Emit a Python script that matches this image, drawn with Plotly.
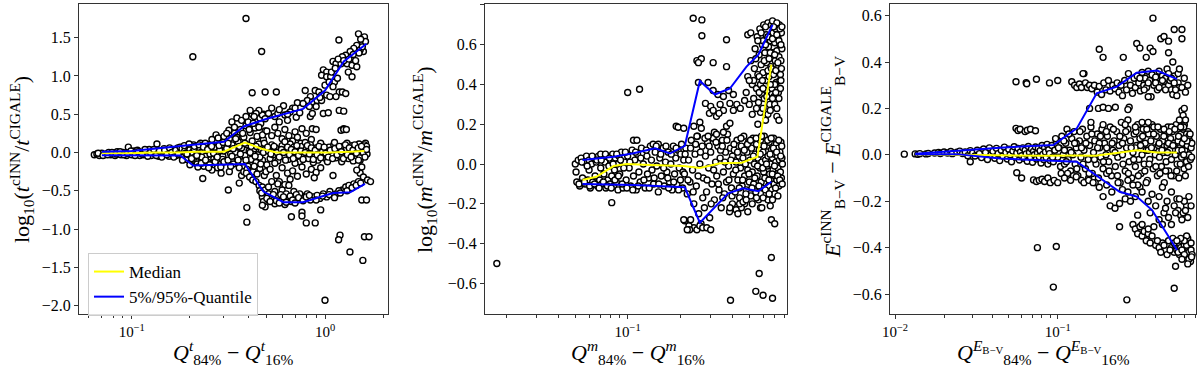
import plotly.graph_objects as go

FONT = "Liberation Serif, Times New Roman, serif"

# ---------------- Panel 1: age t ----------------
t_points = [
    # narrow band at small Q
    (0.064,-0.03),(0.066,-0.02),(0.068,-0.04),(0.070,-0.01),(0.072,-0.03),(0.074,-0.02),(0.076,0.00),(0.078,-0.03),
    (0.080,-0.01),(0.082,-0.04),(0.084,0.01),(0.086,-0.02),(0.088,-0.03),(0.090,0.00),(0.092,-0.02),(0.094,-0.04),
    (0.096,0.01),(0.098,-0.01),(0.100,-0.03),(0.103,0.02),(0.105,-0.02),(0.107,0.03),(0.110,-0.04),(0.112,0.00),
    (0.115,-0.03),(0.118,0.02),(0.120,-0.01),(0.123,0.04),(0.126,-0.04),(0.129,0.01),(0.132,-0.02),(0.135,0.03),
    (0.138,-0.05),(0.141,0.00),(0.144,-0.03),(0.147,0.05),(0.150,-0.01),(0.153,0.02),(0.156,-0.05),(0.160,0.04),
    (0.163,-0.02),(0.166,0.01),(0.170,-0.04),(0.173,0.06),(0.176,0.00),(0.180,-0.03),(0.135,0.11),(0.096,0.07),
    (0.067,-0.01),(0.071,-0.04),(0.075,-0.03),(0.079,0.00),(0.083,-0.02),(0.087,0.01),(0.091,-0.03),(0.095,-0.01),
    (0.099,0.02),(0.104,-0.04),(0.108,0.01),(0.113,-0.02),(0.117,0.04),(0.121,-0.05),(0.125,0.00),(0.130,0.04),
    (0.134,-0.04),(0.139,0.02),(0.143,-0.06),(0.148,0.03),(0.152,-0.03),(0.157,0.06),(0.161,0.00),(0.165,-0.06),
    (0.169,0.03),(0.174,-0.02),(0.178,0.07),
    # widening band
    (0.182,0.05),(0.185,-0.06),(0.188,0.02),(0.191,-0.09),(0.194,0.08),(0.197,-0.03),(0.200,0.04),(0.203,-0.12),
    (0.206,0.00),(0.209,0.10),(0.212,-0.06),(0.215,0.03),(0.218,-0.15),(0.221,0.07),(0.224,-0.02),(0.227,0.12),
    (0.230,-0.09),(0.233,0.01),(0.236,-0.18),(0.239,0.05),(0.242,-0.05),(0.245,0.09),(0.248,-0.13),(0.251,0.02),
    (0.254,-0.02),(0.257,0.11),(0.260,-0.17),(0.263,0.04),(0.266,-0.08),(0.269,0.07),(0.272,-0.03),(0.275,0.13),
    (0.278,-0.20),(0.281,0.00),(0.284,-0.11),(0.287,0.06),(0.290,-0.15),(0.293,0.10),(0.296,-0.05),(0.299,0.02),
    (0.273,0.23),(0.318,0.29),(0.290,-0.27),(0.260,-0.23),(0.190,-0.01),(0.210,0.05),(0.230,-0.06),(0.250,0.06),
    (0.270,-0.12),(0.285,0.03),(0.295,-0.09),(0.200,-0.16),(0.220,-0.19),(0.240,0.12),
    (0.183,-0.10),(0.187,0.09),(0.193,-0.02),(0.198,0.11),(0.204,-0.08),(0.211,0.08),(0.217,-0.04),(0.223,0.10),
    (0.229,-0.14),(0.235,0.07),(0.241,-0.10),(0.247,0.04),(0.253,-0.16),(0.259,0.08),(0.265,-0.01),(0.271,0.15),
    (0.277,-0.06),(0.283,0.09),(0.289,-0.19),(0.297,0.13),(0.300,-0.12),(0.260,0.17),(0.280,0.19),(0.300,0.21),
    (0.250,-0.20),
    # central cloud
    (0.310,0.05),(0.315,-0.10),(0.320,0.18),(0.325,-0.02),(0.330,0.10),(0.335,-0.15),(0.340,0.25),(0.345,0.00),
    (0.350,-0.07),(0.355,0.14),(0.360,-0.20),(0.365,0.30),(0.370,0.06),(0.375,-0.12),(0.380,0.20),(0.385,-0.04),
    (0.390,0.35),(0.395,0.10),(0.400,-0.18),(0.405,0.02),(0.410,0.26),(0.415,-0.09),(0.420,0.15),(0.425,-0.25),
    (0.430,0.05),(0.435,0.32),(0.440,-0.13),(0.445,0.21),(0.450,-0.03),(0.455,0.11),(0.460,-0.21),(0.465,0.38),
    (0.470,0.03),(0.475,-0.10),(0.480,0.17),(0.485,-0.30),(0.490,0.28),(0.495,0.07),(0.500,-0.16),
    (0.330,0.40),(0.350,0.45),(0.370,-0.30),(0.380,-0.25),(0.400,0.40),(0.420,-0.35),(0.440,0.43),(0.360,-0.40),
    (0.340,0.33),(0.320,-0.25),(0.310,0.25),(0.330,-0.05),(0.360,0.08),(0.390,-0.10),(0.410,0.00),(0.440,0.08),
    (0.460,-0.06),(0.480,0.00),(0.350,0.20),(0.430,-0.18),
    (0.315,0.12),(0.325,-0.18),(0.335,0.05),(0.345,0.18),(0.355,-0.10),(0.365,-0.02),(0.375,0.25),(0.385,0.12),
    (0.395,-0.22),(0.405,0.30),(0.415,0.08),(0.425,0.38),(0.435,-0.05),(0.445,-0.28),(0.455,0.33),(0.465,-0.15),
    (0.475,0.23),(0.485,0.12),(0.495,-0.25),(0.370,0.42),(0.390,0.47),(0.420,0.50),(0.460,0.45),(0.480,0.50),
    # upper branch
    (1.49,1.55),(1.60,1.51),(1.55,1.45),(1.46,1.40),(1.41,1.36),(1.35,1.32),(1.58,1.32),(1.52,1.34),
    (1.28,1.27),(1.23,1.25),(1.18,1.47),(1.10,1.19),(1.14,1.16),(1.21,1.16),(1.30,1.16),(1.38,1.14),
    (1.46,1.12),(0.98,1.08),(1.02,1.05),(0.96,1.01),(1.02,0.99),(1.07,0.99),(1.32,1.05),(1.38,0.99),
    (1.12,0.92),(1.16,0.97),(1.10,0.86),(1.185,0.79),(1.23,0.79),(1.28,0.77),(0.89,0.81),(0.93,0.79),
    (0.96,0.75),(1.02,0.75),(1.06,0.73),(1.14,0.73),(0.79,0.81),(0.84,0.73),(0.81,0.68),(0.86,0.66),
    (0.91,0.68),(0.96,0.68),(0.72,0.65),(0.77,0.64),(1.185,0.55),(0.98,0.51),(0.83,0.60),(0.84,0.47),
    (0.86,0.51),(0.68,0.58),(0.66,0.53),(0.61,0.61),(0.62,0.49),(0.71,0.46),(0.53,0.58),(0.51,0.51),
    (0.474,0.49),(0.455,0.55),(0.44,0.51),(0.41,0.55),(0.43,0.47),(0.49,0.44),(0.55,0.47),(0.57,0.51),
    (0.76,0.31),(0.86,0.31),(1.21,0.29),(1.25,0.31),(0.42,0.78),(0.49,0.79),(0.56,0.79),(0.39,1.75),
    (0.47,1.32),(0.207,1.25),(1.25,0.30),(1.29,0.30),(1.25,0.54),(1.04,0.52),(0.64,0.42),(0.58,0.40),
    (1.00,0.88),(1.05,0.92),(1.08,1.05),(1.13,1.10),(1.17,1.22),(1.25,1.20),(1.33,1.22),(1.40,1.28),
    (1.44,1.20),(1.50,1.30),(1.56,1.38),(1.62,1.45),(1.53,1.48),(0.70,0.58),(0.74,0.52),(0.90,0.60),
    (0.94,0.72),(0.58,0.56),(0.64,0.50),
    # sub band
    (0.50,0.28),(0.53,0.22),(0.55,0.33),(0.57,0.25),(0.60,0.18),(0.62,0.30),(0.65,0.22),(0.68,0.15),
    (0.70,0.27),(0.72,0.20),(0.75,0.12),(0.80,0.25),(0.85,0.17),(0.90,0.30),
    # middle band
    (0.51,0.02),(0.52,-0.08),(0.53,0.10),(0.54,-0.03),(0.555,0.06),(0.57,-0.11),(0.585,0.01),(0.60,0.09),
    (0.615,-0.05),(0.63,0.04),(0.645,-0.09),(0.66,0.11),(0.675,-0.01),(0.69,0.07),(0.705,-0.07),(0.72,0.03),
    (0.74,-0.12),(0.76,0.08),(0.78,-0.03),(0.80,0.05),(0.82,-0.08),(0.84,0.10),(0.86,0.00),(0.88,-0.06),
    (0.90,0.06),(0.92,-0.10),(0.94,0.02),(0.96,0.09),(0.98,-0.04),(1.00,0.04),(1.02,-0.09),(1.05,0.07),
    (1.08,-0.02),(1.11,0.10),(1.14,-0.07),(1.17,0.03),(1.20,-0.05),(1.23,0.08),(1.26,-0.01),(1.29,0.05),
    (1.32,-0.08),(1.35,0.02),(1.38,0.09),(1.41,-0.04),(1.44,0.05),(1.47,-0.06),(1.50,0.11),(1.53,0.01),
    (1.56,-0.03),(1.59,0.07),(1.62,0.12),(1.65,-0.02),(0.55,-0.14),(0.62,0.14),(0.70,-0.14),(0.79,0.13),
    (0.87,-0.13),(0.95,0.12),(1.03,-0.12),(1.12,0.13),(1.22,-0.12),(1.30,0.12),(1.40,-0.11),(1.52,-0.10),
    (1.60,0.10),(1.64,0.08),
    (0.505,0.07),(0.525,-0.02),(0.545,0.08),(0.565,0.00),(0.58,-0.06),(0.595,0.04),(0.61,0.00),(0.625,-0.10),
    (0.64,0.07),(0.655,-0.03),(0.67,0.04),(0.685,-0.08),(0.70,0.01),(0.715,0.09),(0.73,-0.04),(0.75,0.02),
    (0.77,-0.09),(0.79,0.00),(0.81,0.09),(0.83,-0.02),(0.85,0.06),(0.87,-0.09),(0.89,0.03),(0.91,-0.03),
    (0.93,0.08),(0.95,-0.07),(0.97,0.01),(0.99,0.07),(1.01,-0.01),(1.04,-0.06),(1.065,0.03),(1.095,-0.08),
    (1.125,0.05),(1.155,-0.03),(1.185,0.08),(1.215,0.01),(1.245,-0.08),(1.275,0.10),(1.305,-0.03),(1.335,0.06),
    (1.365,-0.06),(1.395,0.03),(1.425,0.10),(1.455,-0.01),(1.485,0.06),(1.515,-0.07),(1.545,0.08),(1.575,0.00),
    (1.61,-0.06),(1.64,0.04),
    # lower-middle scatter
    (0.52,-0.22),(0.56,-0.30),(0.60,-0.20),(0.64,-0.27),(0.68,-0.24),(0.72,-0.31),(0.76,-0.19),(0.80,-0.28),
    (0.85,-0.22),(0.90,-0.26),(0.95,-0.20),(1.10,-0.30),(0.88,-0.33),(0.66,-0.35),(0.58,-0.38),(0.62,-0.42),
    # lower branch
    (0.392,-0.27),(0.407,-0.32),(0.423,-0.36),(0.439,-0.38),(0.456,-0.43),(0.474,-0.45),(0.49,-0.49),(0.474,-0.58),
    (0.48,-0.64),(0.49,-0.71),(0.474,-0.69),(0.51,-0.54),(0.53,-0.58),(0.55,-0.51),(0.57,-0.58),(0.55,-0.67),
    (0.60,-0.62),(0.62,-0.68),(0.64,-0.60),(0.67,-0.64),(0.69,-0.58),(0.72,-0.62),(0.75,-0.56),(0.78,-0.60),
    (0.81,-0.54),(0.87,-0.58),(0.94,-0.60),(0.98,-0.54),(1.02,-0.58),(1.06,-0.51),(1.14,-0.54),(1.23,-0.49),
    (1.28,-0.45),(1.33,-0.43),(1.41,-0.41),(1.49,-0.38),(0.51,-0.45),(0.53,-0.38),(0.60,-0.49),(0.63,-0.54),
    (0.69,-0.51),(0.74,-0.54),(0.65,-0.43),(0.57,-0.41),(0.84,-0.62),(0.91,-0.56),(1.10,-0.56),(1.18,-0.50),
    (0.46,-0.50),(0.47,-0.53),(0.50,-0.60),(0.52,-0.64),(0.54,-0.55),(0.56,-0.63),(0.58,-0.66),(0.59,-0.55),
    (0.61,-0.58),(0.63,-0.65),(0.66,-0.57),(0.68,-0.62),(0.70,-0.66),(0.71,-0.55),(0.73,-0.59),(0.77,-0.63),
    (0.80,-0.58),(0.83,-0.56),(0.90,-0.62),(0.97,-0.57),(1.05,-0.55),(1.12,-0.59),(1.20,-0.53),(1.30,-0.50),
    (1.38,-0.46),(1.45,-0.43),(1.53,-0.40),
    # right edge
    (1.49,-0.10),(1.55,-0.19),(1.52,-0.27),(1.58,-0.32),(1.66,-0.36),(1.72,-0.38),(1.46,-0.23),(1.55,-0.62),
    # outliers
    (1.60,-1.10),(1.57,-1.41),(1.346,-1.30),(1.196,-1.08),(1.176,-1.14),(1.69,-1.10),(1.64,-0.62),(1.00,-1.93),
    (0.80,-0.92),(0.89,-0.92),(0.67,-0.84),(0.76,-0.78),(0.76,-0.83),(0.95,-0.75),(0.394,-0.72),(0.394,-0.91),
    (0.316,-0.49),(0.233,-0.34),
]
t_med_x = [0.070, 0.085, 0.10, 0.13, 0.17, 0.22, 0.30, 0.385, 0.47, 0.56, 0.80, 1.05, 1.35, 1.60]
t_med_y = [-0.01, -0.01, -0.01, 0.00, 0.00, 0.01, 0.01, 0.13, 0.05, 0.00, 0.00, 0.00, 0.01, 0.02]
t_hi_x = [0.070, 0.10, 0.19, 0.30, 0.38, 0.50, 0.77, 1.00, 1.25, 1.64]
t_hi_y = [0.01, 0.02, 0.09, 0.14, 0.34, 0.44, 0.57, 0.81, 1.19, 1.42]
t_lo_x = [0.070, 0.178, 0.208, 0.293, 0.385, 0.48, 0.61, 0.77, 0.94, 1.10, 1.35, 1.61]
t_lo_y = [-0.035, -0.04, -0.17, -0.16, -0.15, -0.51, -0.65, -0.65, -0.58, -0.53, -0.52, -0.41]

# ---------------- Panel 2: mass m ----------------
m_points = [
    (0.0177,-0.50),
    (0.050,0.00),(0.051,-0.09),(0.052,0.02),(0.053,-0.11),(0.054,0.03),(0.055,-0.07),(0.056,0.01),(0.057,-0.10),
    (0.058,0.04),(0.059,-0.08),(0.060,0.02),(0.061,-0.12),(0.062,0.00),(0.063,-0.09),(0.064,0.03),(0.065,-0.06),
    (0.066,0.01),(0.067,-0.11),(0.068,0.04),(0.069,-0.08),(0.070,-0.02),(0.071,-0.10),(0.072,0.03),(0.073,-0.05),
    (0.074,0.01),(0.075,-0.12),(0.076,0.04),(0.077,-0.08),(0.078,-0.01),(0.079,-0.10),(0.080,0.02),(0.081,-0.06),
    (0.082,0.05),(0.083,-0.11),(0.084,-0.03),(0.085,0.03),(0.086,-0.09),(0.087,0.00),(0.088,-0.13),(0.089,0.04),
    (0.090,-0.05),(0.092,0.06),(0.094,-0.12),(0.096,0.01),(0.098,-0.08),(0.100,0.04),(0.102,-0.02),(0.104,-0.11),
    (0.106,0.07),(0.108,-0.06),(0.110,0.02),(0.112,-0.13),(0.114,0.05),(0.116,-0.04),(0.118,-0.09),(0.120,0.08),
    (0.123,0.00),(0.126,-0.12),(0.129,0.04),(0.132,-0.07),(0.135,0.09),(0.138,-0.03),(0.141,-0.10),(0.144,0.06),
    (0.147,-0.01),(0.150,-0.14),(0.153,0.03),(0.156,-0.06),(0.159,0.08),(0.162,-0.11),(0.165,0.01),(0.168,-0.04),
    (0.171,0.06),(0.174,-0.09),(0.177,0.00),(0.180,-0.13),(0.183,0.09),(0.186,-0.05),(0.189,0.03),(0.192,-0.10),
    (0.195,0.07),(0.198,-0.02),(0.201,-0.08),(0.204,0.10),(0.207,-0.12),(0.210,0.02),
    (0.108,0.12),(0.113,0.12),(0.140,0.10),(0.150,0.10),(0.160,0.08),(0.19,0.19),(0.195,0.185),(0.21,0.18),
    (0.081,-0.194),(0.100,0.36),(0.117,0.376),(0.060,-0.03),(0.070,0.05),(0.095,-0.02),(0.130,-0.05),(0.170,-0.07),
    (0.0505,-0.04),(0.0525,-0.10),(0.0545,0.01),(0.0565,-0.09),(0.0585,-0.01),(0.0605,-0.11),(0.0625,0.04),(0.0645,-0.10),
    (0.0665,0.02),(0.0685,-0.12),(0.0705,0.02),(0.0725,-0.09),(0.0745,0.05),(0.0765,-0.11),(0.0785,0.03),(0.0805,-0.12),
    (0.0825,0.00),(0.0845,-0.08),(0.0865,0.05),(0.0885,-0.06),(0.091,0.02),(0.093,-0.10),(0.097,0.06),(0.099,-0.12),
    (0.103,0.01),(0.107,-0.13),(0.111,0.06),(0.115,-0.11),(0.119,0.03),(0.124,-0.08),(0.128,0.07),(0.133,-0.12),
    (0.137,0.02),(0.142,-0.07),(0.146,0.09),(0.151,-0.10),(0.155,0.05),(0.161,-0.02),(0.166,0.09),(0.172,-0.12),
    (0.178,0.05),(0.184,-0.09),(0.190,0.08),(0.196,-0.13),(0.202,0.05),(0.208,-0.04),
    # 0.21 - 0.40
    (0.212,-0.05),(0.216,0.08),(0.220,-0.15),(0.224,0.02),(0.228,-0.09),(0.232,0.12),(0.236,-0.03),(0.240,-0.20),
    (0.244,0.05),(0.248,-0.11),(0.252,0.14),(0.256,-0.25),(0.260,0.00),(0.264,-0.30),(0.268,0.09),(0.272,-0.07),
    (0.276,-0.22),(0.280,0.04),(0.284,-0.14),(0.288,0.11),(0.292,-0.02),(0.296,-0.27),(0.300,0.06),(0.305,-0.10),
    (0.310,0.13),(0.315,-0.18),(0.320,0.01),(0.325,-0.06),(0.330,0.09),(0.335,-0.13),(0.340,0.03),(0.345,-0.22),
    (0.350,0.12),(0.355,-0.04),(0.360,-0.15),(0.365,0.06),(0.370,-0.09),(0.375,0.15),(0.380,-0.01),(0.385,-0.24),
    (0.390,0.08),(0.395,-0.12),(0.400,0.04),
    (0.214,0.05),(0.222,-0.08),(0.230,0.08),(0.238,-0.14),(0.246,0.10),(0.254,-0.06),(0.262,0.06),(0.270,-0.17),
    (0.278,0.13),(0.286,-0.08),(0.294,0.09),(0.302,-0.20),(0.312,-0.03),(0.322,0.11),(0.332,-0.10),(0.342,0.07),
    (0.352,-0.17),(0.362,0.01),(0.372,0.12),(0.382,-0.08),(0.392,0.02),(0.398,-0.16),
    (0.240,-0.32),(0.250,-0.33),(0.260,-0.31),(0.270,-0.32),(0.285,-0.32),(0.300,-0.33),(0.225,-0.31),(0.230,-0.28),
    (0.213,-0.285),(0.227,-0.33),(0.21,-0.28),(0.22,-0.33),
    # upper sparse region
    (0.24,0.19),(0.26,0.21),(0.265,0.18),(0.25,0.14),(0.29,0.14),(0.315,0.16),
    (0.28,0.305),(0.30,0.29),(0.295,0.255),(0.31,0.27),(0.324,0.24),(0.34,0.30),(0.355,0.27),(0.335,0.255),
    (0.387,0.305),(0.405,0.27),(0.424,0.30),(0.444,0.28),(0.37,0.19),(0.387,0.205),(0.355,0.16),(0.324,0.15),
    (0.35,0.09),(0.255,0.41),(0.29,0.41),(0.25,0.52),(0.265,0.53),(0.255,0.51),(0.31,0.51),(0.37,0.49),
    (0.37,0.625),(0.31,0.37),(0.33,0.35),(0.355,0.34),(0.38,0.37),(0.405,0.35),
    (0.238,0.733),(0.267,0.725),(0.267,0.645),(0.49,0.65),(0.51,0.66),
    # upper right cluster
    (0.48,0.36),(0.49,0.44),(0.50,0.30),(0.51,0.52),(0.52,0.40),(0.53,0.33),(0.535,0.48),(0.54,0.58),
    (0.55,0.38),(0.555,0.64),(0.56,0.45),(0.565,0.31),(0.57,0.55),(0.575,0.68),(0.58,0.40),(0.585,0.50),
    (0.59,0.35),(0.595,0.60),(0.60,0.46),(0.605,0.70),(0.61,0.33),(0.615,0.56),(0.62,0.42),(0.625,0.65),
    (0.63,0.51),(0.635,0.37),(0.64,0.71),(0.645,0.59),(0.65,0.44),(0.655,0.30),(0.66,0.62),(0.665,0.49),
    (0.67,0.70),(0.675,0.38),(0.68,0.56),(0.685,0.66),(0.69,0.45),(0.695,0.34),(0.70,0.61),(0.705,0.52),
    (0.71,0.68),(0.715,0.41),(0.72,0.57),(0.725,0.48),(0.73,0.64),(0.735,0.36),(0.74,0.54),(0.745,0.70),
    (0.75,0.60),(0.755,0.45),(0.76,0.52),(0.765,0.66),(0.77,0.58),
    (0.58,0.26),(0.60,0.28),(0.62,0.22),(0.64,0.25),(0.66,0.27),(0.52,0.25),(0.56,0.20),(0.70,0.30),
    (0.72,0.28),(0.75,0.42),(0.76,0.42),(0.74,0.33),(0.62,0.69),(0.68,0.72),(0.72,0.71),(0.66,0.56),
    (0.70,0.40),(0.64,0.47),(0.60,0.62),(0.57,0.44),
    (0.53,0.42),(0.545,0.53),(0.56,0.62),(0.57,0.36),(0.585,0.66),(0.595,0.42),(0.61,0.52),(0.62,0.60),
    (0.63,0.34),(0.64,0.64),(0.65,0.53),(0.66,0.40),(0.67,0.48),(0.68,0.63),(0.69,0.69),(0.70,0.55),
    (0.71,0.47),(0.72,0.65),(0.73,0.51),(0.74,0.62),(0.75,0.68),(0.76,0.60),(0.765,0.48),(0.77,0.69),
    (0.755,0.38),(0.71,0.36),(0.68,0.33),(0.60,0.38),(0.50,0.42),(0.47,0.32),(0.55,0.28),(0.72,0.24),
    (0.74,0.22),
    # middle right cluster
    (0.405,-0.05),(0.41,0.07),(0.415,-0.14),(0.42,0.01),(0.425,0.12),(0.43,-0.08),(0.435,0.04),(0.44,-0.17),
    (0.445,-0.02),(0.45,0.09),(0.455,-0.11),(0.46,0.03),(0.465,0.14),(0.47,-0.06),(0.475,0.00),(0.48,-0.13),
    (0.485,0.06),(0.49,-0.03),(0.495,0.11),(0.50,-0.09),(0.505,0.02),(0.51,-0.16),(0.515,0.08),(0.52,-0.04),
    (0.525,0.13),(0.53,-0.10),(0.535,0.00),(0.54,0.05),(0.545,-0.14),(0.55,0.10),(0.555,-0.06),(0.56,0.03),
    (0.565,-0.18),(0.57,0.07),(0.575,-0.02),(0.58,0.12),(0.585,-0.09),(0.59,0.01),(0.595,-0.12),(0.60,0.06),
    (0.605,-0.04),(0.61,0.14),(0.615,-0.07),(0.62,0.02),(0.625,-0.15),(0.63,0.09),(0.635,-0.01),(0.64,0.04),
    (0.645,-0.11),(0.65,0.11),(0.655,-0.05),(0.66,0.00),(0.665,-0.08),(0.67,0.07),(0.675,-0.13),(0.68,0.03),
    (0.685,-0.03),(0.69,0.13),(0.695,-0.10),(0.70,0.05),(0.705,-0.06),(0.71,0.01),(0.715,0.10),(0.72,-0.08),
    (0.725,0.04),(0.73,-0.02),(0.735,0.08),(0.74,-0.11),(0.745,0.02),(0.75,0.06),(0.755,-0.04),(0.76,0.11),
    (0.765,-0.07),(0.77,0.03),(0.775,0.00),
    (0.408,0.10),(0.418,-0.03),(0.428,0.06),(0.438,-0.12),(0.448,0.13),(0.458,-0.08),(0.468,0.07),(0.478,-0.15),
    (0.488,0.10),(0.498,-0.05),(0.508,0.12),(0.518,-0.12),(0.528,0.04),(0.538,-0.07),(0.548,0.13),(0.558,-0.01),
    (0.568,-0.11),(0.578,0.05),(0.588,0.14),(0.598,-0.02),(0.608,0.09),(0.618,-0.13),(0.628,0.00),(0.638,0.12),
    (0.648,-0.08),(0.658,0.05),(0.668,0.13),(0.678,-0.05),(0.688,0.08),(0.698,-0.01),(0.708,-0.12),(0.718,0.06),
    (0.728,-0.06),(0.738,0.12),(0.748,-0.08),(0.758,0.04),(0.768,0.09),(0.773,-0.10),
    (0.47,-0.20),(0.49,-0.24),(0.52,-0.20),(0.55,-0.17),(0.58,-0.22),(0.64,-0.18),(0.66,-0.21),(0.70,-0.15),
    (0.73,-0.16),(0.45,-0.22),(0.40,-0.20),(0.42,-0.23),(0.43,-0.25),(0.44,-0.20),(0.387,-0.22),(0.46,-0.19),
    (0.48,-0.18),(0.59,-0.22),(0.60,-0.17),(0.65,-0.15),(0.68,-0.18),
    # outliers
    (0.67,-0.47),(0.57,-0.55),(0.545,-0.64),(0.60,-0.66),(0.68,-0.675),(0.39,-0.685),(0.67,-0.28),(0.70,-0.30),
]
m_med_x = [0.055, 0.066, 0.083, 0.099, 0.134, 0.209, 0.26, 0.34, 0.452, 0.557, 0.67]
m_med_y = [-0.08, -0.064, -0.01, 0.00, -0.005, -0.01, -0.02, 0.004, 0.007, 0.037, 0.50]
m_hi_x = [0.055, 0.083, 0.108, 0.144, 0.175, 0.213, 0.26, 0.317, 0.387, 0.482, 0.564, 0.68]
m_hi_y = [0.02, 0.037, 0.054, 0.079, 0.053, 0.092, 0.418, 0.35, 0.38, 0.49, 0.55, 0.70]
m_lo_x = [0.055, 0.108, 0.213, 0.26, 0.378, 0.46, 0.564, 0.67]
m_lo_y = [-0.10, -0.105, -0.117, -0.295, -0.147, -0.122, -0.136, -0.089]

# ---------------- Panel 3: E(B-V) ----------------
e_points = [
    (0.0114,0.003),(0.0133,0.004),(0.0138,0.002),(0.0142,0.005),(0.0155,0.004),(0.016,0.006),(0.0175,0.008),(0.0185,0.010),
    (0.019,0.006),(0.020,0.012),(0.021,0.008),(0.022,0.014),(0.0225,0.005),(0.024,0.011),(0.025,0.016),(0.026,0.006),
    (0.027,0.012),(0.028,-0.004),(0.029,0.018),(0.029,-0.030),(0.030,0.008),
    (0.031,-0.005),(0.032,0.020),(0.033,0.005),(0.034,-0.012),(0.035,0.025),(0.036,0.010),(0.037,-0.020),(0.038,0.030),
    (0.039,0.000),(0.040,0.015),(0.041,-0.015),(0.042,0.028),(0.043,0.005),(0.044,-0.025),(0.045,0.020),(0.046,-0.005),
    (0.047,0.033),(0.048,0.010),(0.049,-0.018),(0.050,0.024),(0.051,0.000),(0.052,-0.030),(0.053,0.016),(0.054,0.035),
    (0.055,-0.010),(0.056,0.008),(0.057,0.028),(0.058,-0.022),(0.059,0.012),(0.060,-0.004),(0.061,0.030),(0.062,-0.015),
    (0.063,0.020),(0.064,0.004),(0.065,-0.028),(0.066,0.036),(0.067,0.010),(0.068,-0.010),(0.069,0.025),(0.070,-0.032),
    (0.071,0.015),(0.072,0.000),(0.073,0.034),(0.074,-0.018),(0.075,0.008),(0.076,0.028),(0.077,-0.008),(0.078,0.018),
    (0.079,-0.035),(0.080,0.040),(0.081,0.002),(0.082,-0.020),(0.083,0.030),(0.084,0.012),(0.085,-0.012),(0.086,0.045),
    (0.087,-0.040),(0.088,0.022),(0.089,0.005),(0.090,-0.025),
    (0.0554,0.114),(0.057,0.105),(0.0587,0.110),(0.063,0.100),(0.065,0.106),(0.068,0.110),(0.073,0.104),
    (0.0554,0.315),(0.064,0.311),(0.0645,0.306),(0.074,0.326),(0.089,0.310),(0.100,0.320),
    (0.056,-0.077),(0.060,-0.100),(0.071,-0.108),(0.074,-0.115),(0.077,-0.110),(0.080,-0.105),(0.083,-0.115),(0.087,-0.100),
    (0.090,-0.120),(0.095,-0.110),(0.075,-0.400),(0.098,-0.395),(0.094,-0.570),
    # middle band
    (0.092,0.04),(0.094,-0.03),(0.096,0.02),(0.098,0.06),(0.100,-0.01),(0.102,0.03),(0.104,-0.05),(0.106,0.08),
    (0.108,0.00),(0.110,-0.04),(0.112,0.05),(0.114,0.11),(0.116,-0.02),(0.118,0.02),(0.120,-0.07),(0.122,0.07),
    (0.124,0.00),(0.126,0.10),(0.128,-0.04),(0.130,0.03),(0.133,-0.09),(0.136,0.06),(0.139,-0.01),(0.142,0.11),
    (0.145,0.02),(0.148,-0.06),(0.151,0.08),(0.154,-0.02),(0.157,0.04),(0.160,0.12),(0.163,-0.08),(0.166,0.01),
    (0.169,0.06),(0.172,-0.04),(0.175,0.09),(0.178,-0.10),(0.181,0.03),(0.184,-0.01),(0.187,0.11),(0.190,-0.06),
    (0.194,0.05),(0.198,0.00),(0.202,0.08),(0.206,-0.03),(0.210,0.12),(0.214,-0.09),(0.218,0.02),(0.222,0.06),
    (0.226,-0.05),(0.230,0.10),(0.234,-0.01),(0.238,0.04),(0.242,-0.12),(0.246,0.14),(0.250,0.00),(0.255,0.07),
    (0.260,-0.07),(0.265,0.03),(0.270,0.11),(0.275,-0.03),(0.280,0.06),(0.285,-0.10),(0.290,0.01),(0.295,0.09),
    (0.300,-0.05),(0.305,0.04),(0.310,0.13),(0.315,-0.02),(0.320,0.07),(0.325,-0.08),(0.330,0.00),(0.335,0.11),
    (0.340,-0.04),(0.345,0.05),(0.350,0.02),(0.356,-0.11),(0.362,0.09),(0.368,-0.02),(0.374,0.06),(0.380,0.13),
    (0.386,-0.06),(0.392,0.03),(0.398,0.00),(0.404,0.08),(0.410,-0.09),(0.416,0.04),(0.422,-0.01),(0.428,0.11),
    (0.434,-0.05),(0.440,0.06),(0.446,0.01),(0.452,-0.12),(0.458,0.09),(0.464,-0.03),(0.470,0.04),(0.476,0.12),
    (0.482,-0.07),(0.488,0.02),(0.494,0.07),(0.500,-0.02),(0.507,0.10),(0.514,-0.09),(0.521,0.05),(0.528,0.00),
    (0.535,0.13),(0.542,-0.04),(0.549,0.06),(0.556,-0.10),(0.563,0.03),(0.570,0.09),(0.577,-0.01),(0.584,0.05),
    (0.591,0.11),(0.598,-0.06),(0.605,0.02),(0.612,0.07),(0.619,-0.03),(0.626,0.04),(0.633,0.10),(0.640,0.00),
    (0.647,0.06),(0.654,-0.02),(0.661,0.03),(0.668,0.05),
    (0.115,-0.08),(0.125,-0.09),(0.140,-0.11),(0.155,-0.10),(0.170,-0.12),(0.200,-0.08),(0.160,0.14),(0.190,0.13),
    (0.220,0.11),(0.270,0.15),(0.330,0.14),(0.390,0.12),(0.450,0.11),(0.500,0.12),(0.600,0.13),(0.620,0.09),
    (0.640,0.08),(0.300,0.03),(0.360,0.02),(0.420,0.05),(0.480,0.05),(0.550,0.02),(0.580,0.02),(0.250,0.05),
    (0.200,0.03),(0.180,0.05),(0.140,0.03),(0.130,0.05),(0.110,0.02),
    (0.093,-0.01),(0.097,0.07),(0.101,0.03),(0.105,-0.08),(0.109,0.06),(0.113,-0.03),(0.117,0.09),(0.121,0.01),
    (0.127,0.05),(0.131,-0.06),(0.137,0.10),(0.143,-0.04),(0.149,0.05),(0.156,-0.08),(0.162,0.09),(0.168,-0.02),
    (0.176,0.03),(0.183,0.08),(0.191,-0.03),(0.199,0.10),(0.207,-0.07),(0.216,0.05),(0.225,0.01),(0.233,-0.09),
    (0.241,0.08),(0.252,-0.04),(0.262,0.10),(0.272,-0.08),(0.283,0.03),(0.293,-0.02),(0.303,0.10),(0.313,-0.09),
    (0.323,0.04),(0.333,0.08),(0.343,-0.07),(0.353,0.11),(0.365,-0.04),(0.377,0.03),(0.389,0.09),(0.401,-0.05),
    (0.413,0.12),(0.425,-0.08),(0.437,0.02),(0.449,0.08),(0.461,-0.07),(0.473,0.01),(0.485,0.10),(0.497,-0.09),
    (0.511,0.04),(0.525,0.11),(0.539,-0.07),(0.553,0.08),(0.567,-0.04),(0.581,0.12),(0.595,0.00),(0.609,-0.09),
    (0.623,0.06),(0.637,-0.05),(0.651,0.09),(0.665,-0.01),
    # upper band
    (0.122,0.315),(0.127,0.300),(0.131,0.290),(0.136,0.305),(0.140,0.290),(0.145,0.350),(0.148,0.310),(0.152,0.290),
    (0.157,0.300),(0.162,0.285),(0.168,0.300),(0.175,0.270),(0.180,0.295),(0.186,0.260),(0.192,0.310),(0.198,0.280),
    (0.205,0.320),(0.210,0.275),(0.218,0.300),(0.225,0.285),(0.232,0.310),(0.238,0.270),(0.245,0.300),(0.250,0.255),
    (0.258,0.320),(0.265,0.280),(0.272,0.350),(0.280,0.300),(0.288,0.265),(0.295,0.330),(0.300,0.290),(0.308,0.340),
    (0.315,0.310),(0.322,0.275),(0.330,0.355),(0.338,0.300),(0.345,0.330),(0.352,0.290),(0.360,0.360),(0.368,0.320),
    (0.375,0.250),(0.380,0.345),(0.390,0.300),(0.400,0.335),(0.410,0.280),(0.420,0.360),(0.430,0.310),(0.440,0.340),
    (0.450,0.290),(0.460,0.330),(0.470,0.370),(0.480,0.300),(0.490,0.320),(0.500,0.280),(0.510,0.260),(0.520,0.340),
    (0.530,0.300),(0.540,0.255),(0.550,0.310),(0.560,0.290),
    (0.400,0.310),(0.420,0.290),(0.440,0.320),(0.460,0.280),(0.480,0.350),(0.500,0.330),(0.520,0.310),(0.550,0.350),
    (0.580,0.290),(0.600,0.330),(0.560,0.370),(0.530,0.280),(0.360,0.310),(0.340,0.280),(0.320,0.330),(0.630,0.300),
    (0.610,0.270),
    (0.385,0.589),(0.430,0.500),(0.450,0.510),(0.480,0.490),(0.520,0.540),(0.580,0.540),(0.580,0.500),(0.306,0.480),
    (0.320,0.460),(0.370,0.460),(0.385,0.445),(0.180,0.455),(0.190,0.420),(0.253,0.420),(0.350,0.420),(0.480,0.440),
    (0.510,0.400),(0.143,0.350),(0.360,0.250),
    (0.157,0.200),(0.178,0.200),(0.190,0.205),(0.205,0.200),(0.226,0.205),(0.275,0.205),(0.270,0.195),
    (0.580,0.190),(0.590,0.170),(0.600,0.200),(0.610,0.150),(0.595,0.120),(0.600,0.070),(0.560,0.150),(0.570,0.120),
    (0.360,0.140),(0.300,0.120),(0.260,0.130),
    # lower region
    (0.100,-0.120),(0.110,-0.100),(0.120,-0.110),(0.130,-0.095),(0.145,-0.120),(0.155,-0.110),(0.165,-0.120),(0.180,-0.140),
    (0.200,-0.130),(0.215,-0.160),(0.190,-0.180),(0.210,-0.220),(0.225,-0.230),(0.240,-0.210),(0.260,-0.190),(0.280,-0.200),
    (0.300,-0.180),(0.250,-0.150),(0.235,-0.120),(0.270,-0.110),(0.320,-0.140),(0.350,-0.120),(0.380,-0.170),(0.400,-0.220),
    (0.420,-0.180),(0.450,-0.250),(0.470,-0.200),(0.500,-0.160),(0.520,-0.220),(0.540,-0.190),(0.550,-0.240),(0.570,-0.260),
    (0.590,-0.250),(0.620,-0.220),(0.640,-0.180),(0.330,-0.160),(0.310,-0.130),(0.360,-0.200),(0.440,-0.140),(0.480,-0.270),
    (0.500,-0.300),(0.600,-0.200),
    (0.420,-0.280),(0.440,-0.300),(0.460,-0.230),(0.530,-0.250),(0.560,-0.190),(0.580,-0.280),(0.610,-0.240),(0.630,-0.270),
    (0.660,-0.220),(0.370,-0.250),(0.390,-0.310),(0.270,-0.160),(0.290,-0.130),(0.310,-0.260),
    (0.290,-0.300),(0.300,-0.320),(0.310,-0.340),(0.320,-0.310),(0.330,-0.350),(0.340,-0.330),(0.350,-0.370),(0.360,-0.340),
    (0.370,-0.380),(0.380,-0.350),(0.400,-0.390),(0.420,-0.400),(0.440,-0.380),(0.460,-0.410),(0.480,-0.370),(0.500,-0.400),
    (0.510,-0.360),(0.520,-0.420),(0.530,-0.390),(0.540,-0.410),(0.550,-0.380),(0.560,-0.430),(0.570,-0.400),(0.580,-0.370),
    (0.590,-0.420),(0.600,-0.390),(0.610,-0.410),(0.620,-0.440),(0.630,-0.400),(0.640,-0.420),(0.645,-0.380),(0.660,-0.410),
    (0.670,-0.430),(0.655,-0.460),(0.630,-0.360),(0.620,-0.350),
    (0.410,-0.370),(0.430,-0.420),(0.450,-0.390),(0.470,-0.430),(0.490,-0.410),(0.520,-0.380),(0.550,-0.420),(0.580,-0.410),
    (0.600,-0.430),(0.620,-0.390),(0.640,-0.450),(0.660,-0.380),(0.665,-0.440),(0.630,-0.470),(0.600,-0.370),(0.570,-0.360),
    (0.540,-0.370),(0.360,-0.320),(0.330,-0.300),
    (0.240,-0.310),(0.266,-0.625),(0.520,-0.575),(0.530,-0.480),(0.580,-0.450),
]
e_med_x = [0.0133, 0.0239, 0.0442, 0.080, 0.130, 0.170, 0.230, 0.306, 0.408, 0.541]
e_med_y = [0.003, 0.000, -0.004, -0.004, -0.003, -0.004, 0.008, 0.020, 0.010, 0.010]
e_hi_x = [0.0133, 0.0239, 0.0442, 0.094, 0.131, 0.1735, 0.231, 0.306, 0.408, 0.541]
e_hi_y = [0.005, 0.018, 0.031, 0.042, 0.114, 0.265, 0.294, 0.354, 0.363, 0.326]
e_lo_x = [0.0133, 0.0239, 0.0442, 0.0782, 0.131, 0.24, 0.306, 0.38, 0.541]
e_lo_y = [0.002, 0.003, -0.016, -0.025, -0.030, -0.159, -0.180, -0.238, -0.410]

# ---------------- axes settings ----------------
x_tickvals = [[0.1, 1], [0.1], [0.01, 0.1]]
x_ticktext = [["10<sup>−1</sup>", "10<sup>0</sup>"], ["10<sup>−1</sup>"], ["10<sup>−2</sup>", "10<sup>−1</sup>"]]
x_minor = [
    [0.06, 0.07, 0.08, 0.09, 0.2, 0.3, 0.4, 0.5, 0.6, 0.7, 0.8, 0.9, 2],
    [0.02, 0.03, 0.04, 0.05, 0.06, 0.07, 0.08, 0.09, 0.2, 0.3, 0.4, 0.5, 0.6, 0.7, 0.8],
    [0.02, 0.03, 0.04, 0.05, 0.06, 0.07, 0.08, 0.09, 0.2, 0.3, 0.4, 0.5, 0.6, 0.7],
]
x_ranges = [[-1.273, 0.326], [-1.82, -0.086], [-2.031, -0.15]]
y_ranges = [[-2.11, 1.94], [-0.754, 0.805], [-0.686, 0.65]]
y_dticks = [0.5, 0.2, 0.2]
x_domains = [[79/1200, 388/1200], [485/1200, 786.7/1200], [890/1200, 1196/1200]]
y_domain = [(372-314)/372, (372-4)/372]

x_titles = [
    "<i>Q</i><sup><i>t</i></sup><sub>84%</sub> − <i>Q</i><sup><i>t</i></sup><sub>16%</sub>",
    "<i>Q</i><sup><i>m</i></sup><sub>84%</sub> − <i>Q</i><sup><i>m</i></sup><sub>16%</sub>",
    "<i>Q</i><sup><i>E</i><sub>B−V</sub></sup><sub>84%</sub> − <i>Q</i><sup><i>E</i><sub>B−V</sub></sup><sub>16%</sub>",
]
y_titles = [
    "log<sub>10</sub>(<i>t</i><sup>cINN</sup>/<i>t</i><sup>CIGALE</sup>)",
    "log<sub>10</sub>(<i>m</i><sup>cINN</sup>/<i>m</i><sup>CIGALE</sup>)",
    "<i>E</i><sup>cINN</sup><sub>B−V</sub> − <i>E</i><sup>CIGALE</sup><sub>B−V</sub>",
]
x_title_pos = [(233, 352), (638, 352), (1043, 352)]
y_title_pos = [(22, 160), (425, 160), (833, 157)]

panels = [
    (t_points, t_med_x, t_med_y, t_hi_x, t_hi_y, t_lo_x, t_lo_y),
    (m_points, m_med_x, m_med_y, m_hi_x, m_hi_y, m_lo_x, m_lo_y),
    (e_points, e_med_x, e_med_y, e_hi_x, e_hi_y, e_lo_x, e_lo_y),
]

fig = go.Figure()
layout_axes = {}
annotations = []
for i, (pts, mx, my, hx, hy, lx, ly) in enumerate(panels):
    sfx = "" if i == 0 else str(i + 1)
    xa, ya = "x" + sfx, "y" + sfx
    fig.add_trace(go.Scatter(
        x=[p[0] for p in pts], y=[p[1] for p in pts], mode="markers",
        marker=dict(symbol="circle", size=6, color="white", line=dict(color="black", width=1.4)),
        xaxis=xa, yaxis=ya, showlegend=False, hoverinfo="skip"))
    fig.add_trace(go.Scatter(x=mx, y=my, mode="lines", line=dict(color="#ffff00", width=2),
                             name="Median", showlegend=(i == 0), legendrank=1, xaxis=xa, yaxis=ya))
    fig.add_trace(go.Scatter(x=hx, y=hy, mode="lines", line=dict(color="#0000ff", width=2),
                             name="5%/95%-Quantile", showlegend=(i == 0), legendrank=2, xaxis=xa, yaxis=ya))
    fig.add_trace(go.Scatter(x=lx, y=ly, mode="lines", line=dict(color="#0000ff", width=2),
                             showlegend=False, xaxis=xa, yaxis=ya))
    common = dict(showline=True, linecolor="#333333", linewidth=1, mirror=True, ticks="outside",
                  ticklen=4, tickwidth=1, tickcolor="#333333", showgrid=False, zeroline=False,
                  automargin=False)
    layout_axes["xaxis" + sfx] = dict(
        common, type="log", range=x_ranges[i], domain=x_domains[i], anchor=ya,
        tickfont=dict(family=FONT, size=15, color="black"),
        tickmode="array", tickvals=x_tickvals[i], ticktext=x_ticktext[i],
        minor=dict(ticks="outside", ticklen=2.5, tickwidth=1, tickcolor="#333333",
                   tickmode="array", tickvals=x_minor[i], showgrid=False))
    layout_axes["yaxis" + sfx] = dict(
        common, range=y_ranges[i], domain=y_domain, anchor=xa, dtick=y_dticks[i], tick0=0,
        tickformat=".1f", tickfont=dict(family=FONT, size=16, color="black"))
    annotations.append(dict(text=x_titles[i], x=x_title_pos[i][0] / 1200, y=(372 - x_title_pos[i][1]) / 372,
                            xref="paper", yref="paper", showarrow=False, xanchor="center", yanchor="middle",
                            font=dict(family=FONT, size=22, color="black")))
    annotations.append(dict(text=y_titles[i], x=y_title_pos[i][0] / 1200, y=(372 - y_title_pos[i][1]) / 372,
                            xref="paper", yref="paper", showarrow=False, xanchor="center", yanchor="middle",
                            textangle=-90, font=dict(family=FONT, size=22, color="black")))

fig.update_layout(
    width=1200, height=372, margin=dict(l=0, r=0, t=0, b=0, autoexpand=False),
    paper_bgcolor="white", plot_bgcolor="white",
    font=dict(family=FONT, color="black"),
    showlegend=True,
    legend=dict(x=88 / 1200, y=(372 - 253) / 372, xanchor="left", yanchor="top",
                bgcolor="rgba(255,255,255,0.85)", bordercolor="#cccccc", borderwidth=1,
                font=dict(family=FONT, size=17, color="black"), tracegroupgap=0),
    annotations=annotations,
    **layout_axes,
)

fig.write_html("out.html", config={"displayModeBar": False},
               post_script="document.body.style.margin='0px';")
